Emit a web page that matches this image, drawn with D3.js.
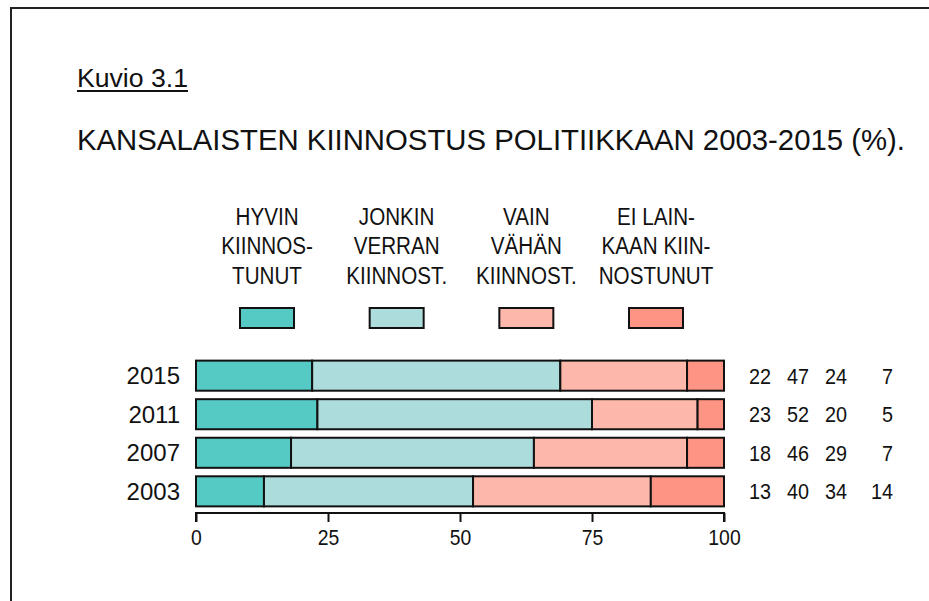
<!DOCTYPE html>
<html>
<head>
<meta charset="utf-8">
<script src="https://cdn.jsdelivr.net/npm/d3@7"></script>
<style>
  body { margin: 0; background: #fff; }
  text { font-family: "Liberation Sans", Arial, sans-serif; fill: #111; }
</style>
</head>
<body>
<script>
const years = ["2015", "2011", "2007", "2003"];
const hyvin = [22, 23, 18, 13];
const jonkin = [47, 52, 46, 40];
const vainVahan = [24, 20, 29, 34];
const eiLainkaan = [7, 5, 7, 14];
const legendLabels = [
  ["HYVIN", "KIINNOS-", "TUNUT"],
  ["JONKIN", "VERRAN", "KIINNOST."],
  ["VAIN", "VÄHÄN", "KIINNOST."],
  ["EI LAIN-", "KAAN KIIN-", "NOSTUNUT"]
];
const colors = ["#55c9c4", "#acdcdb", "#feb8ab", "#fe9483"];
const xTicks = [0, 25, 50, 75, 100];

const width = 929, height = 601;
const svg = d3.select("body").append("svg")
  .attr("width", width).attr("height", height);

// frame
svg.append("path")
  .attr("d", `M11,${height + 5} V8 H${width + 5}`)
  .attr("fill", "none").attr("stroke", "#222").attr("stroke-width", 2);

// headings
svg.append("text").attr("x", 77).attr("y", 87)
  .attr("font-size", 26).attr("textLength", 111).attr("lengthAdjust", "spacingAndGlyphs")
  .text("Kuvio 3.1");
svg.append("line").attr("x1", 77).attr("x2", 188).attr("y1", 91).attr("y2", 91)
  .attr("stroke", "#111").attr("stroke-width", 2);
svg.append("text").attr("x", 77).attr("y", 150)
  .attr("font-size", 29).attr("textLength", 828).attr("lengthAdjust", "spacingAndGlyphs")
  .text("KANSALAISTEN KIINNOSTUS POLITIIKKAAN 2003-2015 (%).");

// each row normalised to its own total (2003 adds up to 101)
const series = [hyvin, jonkin, vainVahan, eiLainkaan];
const rows = years.map((y, i) => {
  const total = d3.sum(series, s => s[i]);
  const r = { year: y };
  series.forEach((s, k) => r["k" + k] = s[i] / total * 100);
  return r;
});
const stack = d3.stack().keys(["k0", "k1", "k2", "k3"])(rows);

const x = d3.scaleLinear().domain([0, 100]).range([196, 724]);
const y = d3.scaleBand().domain(years).range([356, 511]).paddingInner(0.22).paddingOuter(0.12);

// legend
const legendX = d3.scalePoint().domain(d3.range(4)).range([267, 656]);
const lg = svg.append("g");
legendLabels.forEach((lines, k) => {
  const t = lg.append("text").attr("text-anchor", "middle").attr("font-size", 24)
    .attr("transform", `translate(${legendX(k)},0) scale(0.86,1)`);
  lines.forEach((line, j) => {
    t.append("tspan").attr("x", 0).attr("y", 225 + j * 29.5).text(line);
  });
  lg.append("rect")
    .attr("x", legendX(k) - 27).attr("y", 308).attr("width", 54).attr("height", 20)
    .attr("fill", colors[k]).attr("stroke", "#111").attr("stroke-width", 2);
});

// bars
svg.append("g").selectAll("g").data(stack).join("g")
  .attr("fill", (d, k) => colors[k])
  .selectAll("rect").data(d => d).join("rect")
  .attr("x", d => x(d[0]))
  .attr("width", d => x(d[1]) - x(d[0]))
  .attr("y", d => y(d.data.year))
  .attr("height", y.bandwidth())
  .attr("stroke", "#111").attr("stroke-width", 2);

// year labels
svg.append("g").selectAll("text").data(years).join("text")
  .attr("x", 180).attr("y", d => y(d) + y.bandwidth() / 2)
  .attr("dy", "0.36em").attr("text-anchor", "end")
  .attr("font-size", 24).text(d => d);

// value columns
const colRight = [771, 809, 847, 893];
series.forEach((s, k) => {
  svg.append("g").selectAll("text").data(s).join("text")
    .attr("transform", (d, i) => `translate(${colRight[k]},${y(years[i]) + y.bandwidth() / 2}) scale(0.9,1)`)
    .attr("dy", "0.36em").attr("text-anchor", "end")
    .attr("font-size", 22).text(d => d);
});

// axis
const axis = svg.append("g").attr("transform", "translate(0,513)")
  .call(d3.axisBottom(x).tickValues(xTicks).tickSize(9).tickPadding(7));
axis.select(".domain").attr("stroke", "#111").attr("stroke-width", 2).attr("d", "M196,9V0H724V9");
axis.selectAll(".tick line").attr("stroke", "#111").attr("stroke-width", 2);
axis.selectAll(".tick text").attr("font-size", 22).attr("transform", "scale(0.88,1)")
  .attr("font-family", "Liberation Sans, Arial, sans-serif").attr("fill", "#111");
</script>
</body>
</html>
